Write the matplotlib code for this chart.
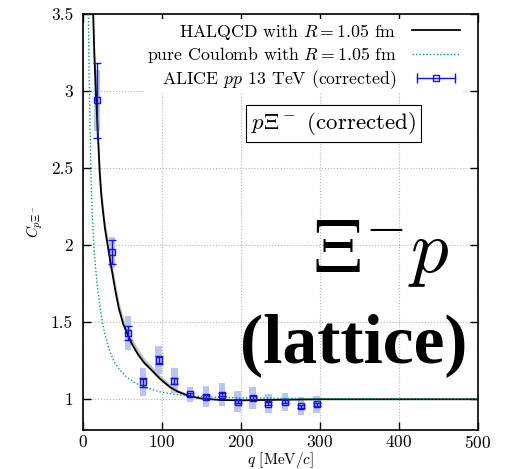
import matplotlib
matplotlib.use('Agg')
import matplotlib.pyplot as plt
from matplotlib.lines import Line2D
from matplotlib.legend_handler import HandlerLine2D, HandlerTuple
import numpy as np

plt.rcParams['font.family'] = ['cmr10', 'DejaVu Serif']
plt.rcParams['mathtext.fontset'] = 'cm'
plt.rcParams['axes.formatter.use_mathtext'] = True

# ALICE pp 13 TeV p-Xi- correlation (corrected)
q_data = [18, 37, 57, 76, 96, 116, 136, 156, 176, 196, 215, 235, 256, 276, 296]
c_data = [2.94, 1.955, 1.43, 1.11, 1.253, 1.121, 1.032, 1.017, 1.03, 0.985,
          1.01, 0.972, 0.983, 0.955, 0.966]
stat_err = [0.245, 0.078, 0.045, 0.03, 0.025, 0.02, 0.01, 0.008, 0.01, 0.01,
            0.01, 0.01, 0.01, 0.01, 0.01]
syst_err = [0.2, 0.1, 0.113, 0.09, 0.09, 0.08, 0.05, 0.068, 0.075, 0.068,
            0.07, 0.06, 0.06, 0.057, 0.055]

# HALQCD prediction with R = 1.05 fm (central curve and band edges)
hal_q = [13, 14.5, 16.5, 18.5, 20, 21.5, 23.5, 25.7, 28, 30.8, 34, 37, 41, 45.6,
         51, 56, 62, 70, 78, 85, 97.5, 110, 120, 135, 150, 175, 200, 250, 300,
         400, 500]
hal_c = [3.52, 3.25, 3.0, 2.78, 2.62, 2.46, 2.32, 2.21, 2.11, 2.02, 1.92, 1.83,
         1.71, 1.59, 1.49, 1.43, 1.36, 1.29, 1.235, 1.20, 1.134, 1.08, 1.05,
         1.02, 1.005, 0.995, 0.993, 0.997, 1.0, 1.0, 1.0]
hal_up = [0.08, 0.08, 0.08, 0.07, 0.07, 0.07, 0.06, 0.06, 0.06, 0.05, 0.05, 0.05,
          0.05, 0.045, 0.045, 0.04, 0.04, 0.035, 0.03, 0.03, 0.025, 0.02, 0.015,
          0.01, 0.008, 0.005, 0.004, 0.003, 0.002, 0.001, 0.001]
hal_dn = [0.03, 0.03, 0.03, 0.03, 0.025, 0.025, 0.02, 0.02, 0.02, 0.02, 0.02,
          0.02, 0.015, 0.015, 0.015, 0.015, 0.01, 0.01, 0.01, 0.01, 0.008,
          0.006, 0.005, 0.004, 0.003, 0.002, 0.002, 0.001, 0.001, 0.001, 0.001]

# pure Coulomb with R = 1.05 fm
cou_q = [7, 8, 9, 10.5, 12, 13.9, 16, 18, 20.3, 23.5, 27.5, 34.2, 40, 47, 55.3,
         65, 76.4, 97.5, 115, 139, 170, 200, 250, 300, 400, 500]
cou_c = [3.5, 3.12, 2.8, 2.42, 2.2, 2.0, 1.86, 1.75, 1.66, 1.54, 1.43, 1.31,
         1.24, 1.19, 1.145, 1.11, 1.08, 1.048, 1.032, 1.02, 1.013, 1.009,
         1.006, 1.004, 1.003, 1.002]

blue = '#1010ee'
teal = '#009e73'

fig = plt.figure(figsize=(5.05, 4.69), dpi=100)
ax = fig.add_axes([0.164, 0.083, 0.782, 0.887])

# systematic boxes
c_arr = np.array(c_data)
s_arr = np.array(syst_err)
ax.bar(q_data, 2 * s_arr, bottom=c_arr - s_arr, width=8, color='#bcc4f2',
       edgecolor='none', zorder=2)

# HALQCD band and curve
hq = np.array(hal_q)
hc = np.array(hal_c)
ax.fill_between(hq, hc - np.array(hal_dn), hc + np.array(hal_up),
                color='#c4c4c4', lw=0, zorder=3)
ax.plot(hq, hc, color='black', lw=1.3, zorder=4)

ax.plot(cou_q, cou_c, color=teal, lw=1.0, ls=(0, (1, 1.5)), zorder=4)

ax.errorbar(q_data, c_data, yerr=stat_err, fmt='s', color=blue, mfc='none',
            mec=blue, ms=3.8, mew=1.0, elinewidth=1.0, capsize=3.2,
            capthick=1.0, zorder=5)

ax.set_xlim(0, 500)
ax.set_ylim(0.8, 3.5)
ax.set_xticks([0, 100, 200, 300, 400, 500])
ax.set_yticks([1, 1.5, 2, 2.5, 3, 3.5])
ax.set_yticklabels(['1', '1.5', '2', '2.5', '3', '3.5'])
ax.tick_params(direction='in', top=True, right=True, length=6, width=1,
               labelsize=12.5, pad=3)
ax.tick_params(axis='y', pad=7)
for sp in ax.spines.values():
    sp.set_linewidth(1.2)
ax.grid(True, color='#b5b5b5', ls=':', lw=0.8, zorder=0)
ax.set_axisbelow(True)

ax.set_xlabel(r'$q$ [MeV/$c$]', fontsize=11)
ax.xaxis.set_label_coords(0.5, -0.048)
ax.set_ylabel(r'$C_{p\Xi^-}$', fontsize=11, labelpad=4)

# legend with labels on the left, samples on the right
h_hal = Line2D([], [], color='black', lw=1.3)
h_cou = Line2D([], [], color=teal, lw=1.0, ls=(0, (1, 1.5)))
h_bar = Line2D([], [], color=blue, lw=1.0, marker='|', ms=7, mew=1.0)
h_sq = Line2D([], [], ls='none', marker='s', mfc='none', mec=blue, ms=3.8,
              mew=1.0)
leg = ax.legend([h_hal, h_cou, (h_bar, h_sq)],
                [r'HALQCD with $R = 1.05$ fm',
                 r'pure Coulomb with $R = 1.05$ fm',
                 r'ALICE $pp$ 13 TeV (corrected)'],
                handler_map={h_bar: HandlerLine2D(numpoints=2),
                             tuple: HandlerTuple(ndivide=1)},
                loc='upper right', bbox_to_anchor=(0.975, 1.0),
                markerfirst=False, fontsize=12.8,
                handlelength=2.75, handletextpad=0.85, labelspacing=0.2,
                borderpad=0.12, borderaxespad=0.3, frameon=True,
                fancybox=False, framealpha=1, facecolor='white',
                edgecolor='none')
leg.set_zorder(10)

ax.text(0.635, 0.737, r'$p\Xi^-$ (corrected)', transform=ax.transAxes,
        ha='center', va='center', fontsize=16.5, zorder=11,
        bbox=dict(boxstyle='square,pad=0.2', fc='white', ec='black', lw=0.8))

# large labels on the right
fig.text(0.618, 0.42, r'$\Xi^{-}p$', fontsize=54, ha='left', va='baseline')
fig.text(0.925, 0.228, '(lattice)', fontsize=50, ha='right', va='baseline',
         family='Liberation Serif', weight='bold')

fig.savefig('out.png', dpi=100)
